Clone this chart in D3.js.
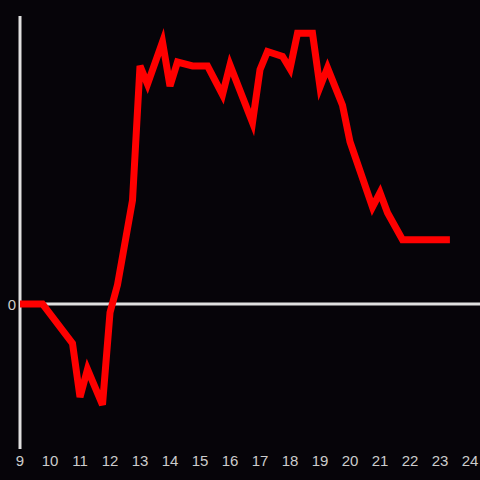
<!DOCTYPE html>
<html>
<head>
<meta charset="utf-8">
<script src="https://cdn.jsdelivr.net/npm/d3@7"></script>
<style>
  html, body { margin: 0; padding: 0; background: #060409; }
  svg { display: block; }
</style>
</head>
<body>
<div id="chart"></div>
<script>
// hour of day and value
const hours = [9, 9.75, 10.75, 11, 11.25, 11.75, 12, 12.25, 12.75, 13, 13.25, 13.75, 14, 14.25,
  14.75, 15.25, 15.75, 16, 16.75, 17, 17.25, 17.75, 18, 18.25, 18.75, 19, 19.25, 19.75, 20,
  20.75, 21, 21.25, 21.75, 23.33];
const values = [0, 0, -0.41, -0.97, -0.68, -1.05, -0.09, 0.2, 1.08, 2.48, 2.29, 2.73, 2.27, 2.52,
  2.48, 2.48, 2.18, 2.49, 1.89, 2.44, 2.63, 2.58, 2.45, 2.82, 2.82, 2.26, 2.46, 2.07, 1.69,
  1.01, 1.16, 0.95, 0.67, 0.67];
const xTicks = d3.range(9, 25);
const yTicks = [0];

const width = 480, height = 480;

const svg = d3.select("#chart").append("svg")
    .attr("width", width)
    .attr("height", height);

svg.append("rect")
    .attr("width", width)
    .attr("height", height)
    .attr("fill", "#060409");

const x = d3.scaleLinear().domain([9, 24]).range([20, 470]);
const y = d3.scaleLinear().domain([-1.5, 3]).range([448, 16]);

// y axis line
svg.append("line")
    .attr("x1", x(9)).attr("x2", x(9))
    .attr("y1", y(3)).attr("y2", y(-1.5) + 1)
    .attr("stroke", "#e0e0e0")
    .attr("stroke-width", 3);

// zero line
svg.append("line")
    .attr("x1", x(9)).attr("x2", width)
    .attr("y1", y(0)).attr("y2", y(0))
    .attr("stroke", "#e0e0e0")
    .attr("stroke-width", 3);

// x tick labels
svg.append("g")
    .selectAll("text")
    .data(xTicks)
    .enter().append("text")
    .attr("x", d => x(d))
    .attr("y", 466)
    .attr("text-anchor", "middle")
    .attr("fill", "#cccccc")
    .style("font-family", "Liberation Sans, Arial, sans-serif")
    .style("font-size", "15px")
    .text(d => d);

// y tick labels
svg.append("g")
    .selectAll("text")
    .data(yTicks)
    .enter().append("text")
    .attr("x", 16)
    .attr("y", d => y(d) + 5.5)
    .attr("text-anchor", "end")
    .attr("fill", "#cccccc")
    .style("font-family", "Liberation Sans, Arial, sans-serif")
    .style("font-size", "15px")
    .text(d => d);

const line = d3.line()
    .x((d, i) => x(hours[i]))
    .y(d => y(d));

svg.append("path")
    .datum(values)
    .attr("d", line)
    .attr("fill", "none")
    .attr("stroke", "#ff0000")
    .attr("stroke-width", 7)
    .attr("stroke-linejoin", "miter");
</script>
</body>
</html>
